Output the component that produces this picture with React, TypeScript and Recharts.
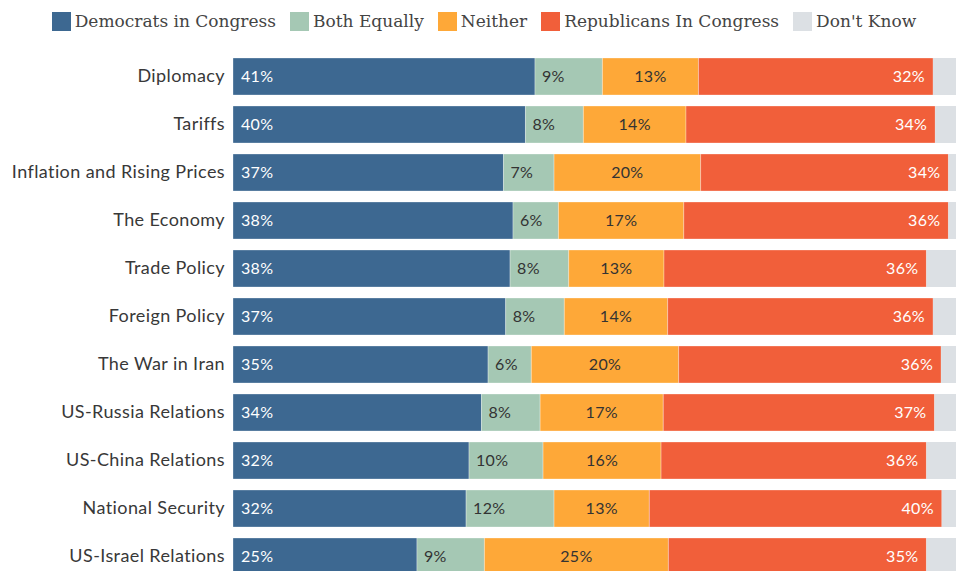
import { BarChart, Bar, XAxis, YAxis, Legend, LabelList } from 'recharts';

const topics = [
  'Diplomacy',
  'Tariffs',
  'Inflation and Rising Prices',
  'The Economy',
  'Trade Policy',
  'Foreign Policy',
  'The War in Iran',
  'US-Russia Relations',
  'US-China Relations',
  'National Security',
  'US-Israel Relations',
];

const democrats = [41.2, 39.9, 36.9, 38.2, 37.8, 37.2, 34.8, 33.9, 32.2, 31.8, 25.1];
const bothEqually = [9.2, 7.9, 6.9, 6.2, 8.0, 8.0, 5.9, 8.0, 10.1, 12.0, 9.2];
const neither = [13.1, 14.0, 20.0, 17.1, 13.0, 14.1, 20.1, 16.8, 16.1, 13.0, 25.1];
const republicans = [32.0, 34.0, 33.8, 36.1, 35.8, 36.2, 35.8, 37.0, 36.2, 39.9, 35.2];
const dontKnow = [4.5, 4.2, 2.4, 2.4, 5.4, 4.5, 3.4, 4.3, 5.4, 3.3, 5.4];

const series = [
  { key: 'dem', name: 'Democrats in Congress', color: '#3d6891' },
  { key: 'both', name: 'Both Equally', color: '#a5c8b4' },
  { key: 'neither', name: 'Neither', color: '#fea838' },
  { key: 'rep', name: 'Republicans In Congress', color: '#f15f3a' },
  { key: 'dk', name: "Don't Know", color: '#dce0e4' },
];

const data = topics.map((topic, i) => ({
  topic,
  dem: democrats[i],
  both: bothEqually[i],
  neither: neither[i],
  rep: republicans[i],
  dk: dontKnow[i],
}));

const sans = 'Lato, "Noto Sans", sans-serif';
const pct = (v: number) => `${Math.round(v)}%`;

function LegendRow() {
  return (
    <div
      style={{
        height: 52,
        display: 'flex',
        justifyContent: 'center',
        alignItems: 'flex-start',
        paddingTop: 12,
        paddingLeft: 2,
        boxSizing: 'border-box',
        fontFamily: '"DejaVu Serif", serif',
        fontSize: 17,
        color: '#444',
      }}
    >
      {series.map((s, i) => (
        <div
          key={s.key}
          style={{ display: 'flex', alignItems: 'center', marginRight: i === series.length - 1 ? 0 : 14 }}
        >
          <span style={{ width: 19, height: 19, background: s.color, marginRight: 4, display: 'inline-block' }} />
          <span style={{ lineHeight: '19px' }}>{s.name}</span>
        </div>
      ))}
    </div>
  );
}

export default function App() {
  return (
    <div style={{ position: 'absolute', left: 0, top: 0, width: 956, height: 571, overflow: 'hidden', background: '#fff' }}>
      <BarChart
        width={966}
        height={580}
        data={data}
        layout="vertical"
        margin={{ top: 0, right: 0, bottom: 0, left: 0 }}
        barSize={37}
      >
        <XAxis type="number" domain={[0, 100]} hide />
        <YAxis
          type="category"
          dataKey="topic"
          width={233}
          axisLine={false}
          tickLine={false}
          tickSize={0}
          tickMargin={8}
          tick={{ fill: '#383838', fontSize: 18, fontFamily: sans, letterSpacing: 0.4 }}
        />
        <Legend verticalAlign="top" content={() => <LegendRow />} />
        <Bar dataKey="dem" name="Democrats in Congress" stackId="a" fill="#3d6891" stroke="#ffffff" strokeOpacity={0.3} isAnimationActive={false}>
          <LabelList dataKey="dem" position="insideLeft" offset={8} formatter={pct} fill="#fff" fontSize={16} fontFamily={sans} letterSpacing={0.3} />
        </Bar>
        <Bar dataKey="both" name="Both Equally" stackId="a" fill="#a5c8b4" stroke="#ffffff" strokeOpacity={0.3} isAnimationActive={false}>
          <LabelList dataKey="both" position="insideLeft" offset={7} formatter={pct} fill="#333" fontSize={16} fontFamily={sans} letterSpacing={0.3} />
        </Bar>
        <Bar dataKey="neither" name="Neither" stackId="a" fill="#fea838" stroke="#ffffff" strokeOpacity={0.3} isAnimationActive={false}>
          <LabelList dataKey="neither" position="center" formatter={pct} fill="#333" fontSize={16} fontFamily={sans} letterSpacing={0.3} />
        </Bar>
        <Bar dataKey="rep" name="Republicans In Congress" stackId="a" fill="#f15f3a" stroke="#ffffff" strokeOpacity={0.3} isAnimationActive={false}>
          <LabelList dataKey="rep" position="insideRight" offset={8} formatter={pct} fill="#fff" fontSize={16} fontFamily={sans} letterSpacing={0.3} />
        </Bar>
        <Bar dataKey="dk" name="Don't Know" stackId="a" fill="#dce0e4" isAnimationActive={false} />
      </BarChart>
    </div>
  );
}
